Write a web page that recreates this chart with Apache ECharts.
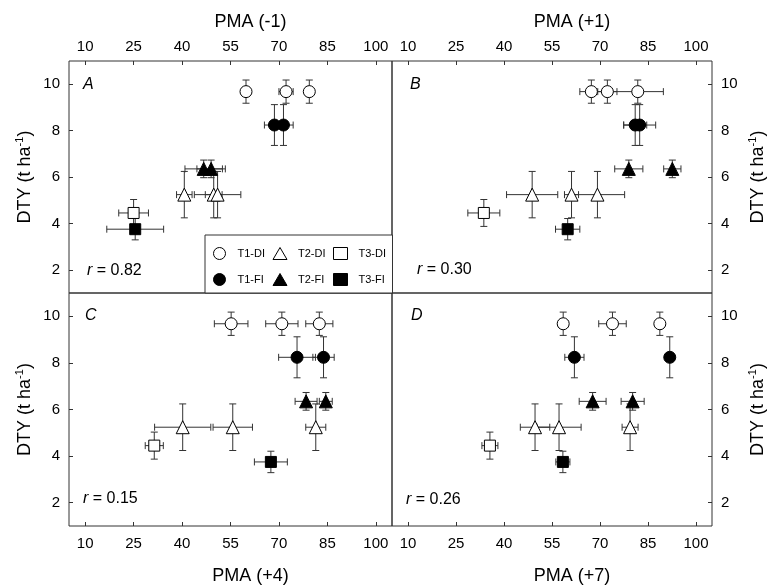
<!DOCTYPE html>
<html>
<head>
<meta charset="utf-8">
<script src="https://cdn.jsdelivr.net/npm/echarts@6/dist/echarts.min.js"></script>
<style>
  html, body { margin: 0; padding: 0; background: #fff; }
  #main { width: 768px; height: 587px; }
</style>
</head>
<body>
<div id="main"></div>
<script>
// 数据
var groups = ['T1-DI', 'T1-FI', 'T2-DI', 'T2-FI', 'T3-DI', 'T3-FI'];
var dty = [9.68, 8.24, 5.24, 6.35, 4.45, 3.75];
var dtyErr = [0.5, 0.88, 1.0, 0.38, 0.58, 0.46];

var pmaA = [[59.8, 72.2, 79.4], [68.6, 71.4], [40.7, 49.8, 51.0], [46.7, 49.0], [25.0], [25.5]];
var pmaAErr = [[1.0, 2.2, 1.0], [3.1, 3.0], [2.4, 2.6, 7.2], [5.8, 4.4], [4.6], [8.8]];
var pmaB = [[67.3, 72.3, 81.8], [81.0, 82.4], [48.8, 61.1, 69.2], [79.0, 92.6], [33.7], [59.9]];
var pmaBErr = [[3.6, 3.0, 8.0], [3.6, 5.0], [8.0, 2.2, 8.5], [4.4, 2.7], [5.0], [3.8]];
var pmaC = [[55.2, 70.9, 82.5], [75.6, 83.8], [40.2, 55.7, 81.4], [78.4, 84.5], [31.4], [67.5]];
var pmaCErr = [[5.2, 5.0, 4.2], [5.7, 3.3], [8.7, 6.1, 3.1], [3.4, 2.0], [2.8], [5.1]];
var pmaD = [[58.5, 73.9, 88.7], [62.0, 91.8], [49.7, 57.2, 79.4], [67.7, 80.2], [35.6], [58.4]];
var pmaDErr = [[1.5, 4.3, 1.2], [3.0, 1.0], [4.6, 6.9, 2.5], [4.2, 3.6], [2.5], [2.2]];

var xNames = ['PMA (-1)', 'PMA (+1)', 'PMA (+4)', 'PMA (+7)'];
var panelLetters = ['A', 'B', 'C', 'D'];
var rValues = ['0.82', '0.30', '0.15', '0.26'];
var xTicks = [10, 25, 40, 55, 70, 85, 100];
var yTicks = [2, 4, 6, 8, 10];

var FONT = 'Liberation Sans, Arial, sans-serif';
var symbols = ['circle', 'circle', 'triangle', 'triangle', 'rect', 'rect'];
var symbolSizes = [12, 12, 13, 13, 11, 11];
var fills = ['#fff', '#000', '#fff', '#000', '#fff', '#000'];

var pma = [pmaA, pmaB, pmaC, pmaD];
var pmaErr = [pmaAErr, pmaBErr, pmaCErr, pmaDErr];

var grids = [
  { left: 69, top: 61, width: 323, height: 232 },
  { left: 392, top: 61, width: 324, height: 232 },
  { left: 69, top: 293, width: 323, height: 233 },
  { left: 392, top: 293, width: 324, height: 233 }
];
var letterPos = [[83, 77], [410, 77], [85, 308], [411, 308]];
var rPos = [[87, 263], [417, 262], [83, 491], [406, 492]];

// 误差线
function errorBar(params, api) {
  var x = api.value(0), y = api.value(1), ex = api.value(2), ey = api.value(3);
  var l = api.coord([x - ex, y]), r = api.coord([x + ex, y]);
  var t = api.coord([x, y + ey]), b = api.coord([x, y - ey]);
  var cap = 3.5;
  var style = { stroke: '#333', lineWidth: 1, fill: null };
  var line = function (x1, y1, x2, y2) {
    return { type: 'line', shape: { x1: x1, y1: y1, x2: x2, y2: y2 }, style: style };
  };
  return {
    type: 'group',
    children: [
      line(l[0], l[1], r[0], r[1]),
      line(l[0], l[1] - cap, l[0], l[1] + cap),
      line(r[0], r[1] - cap, r[0], r[1] + cap),
      line(t[0], t[1], b[0], b[1]),
      line(t[0] - cap, t[1], t[0] + cap, t[1]),
      line(b[0] - cap, b[1], b[0] + cap, b[1])
    ]
  };
}

var xAxes = [], yAxes = [], series = [], graphics = [];
grids.forEach(function (g, p) {
  var top = p < 2, left = p % 2 === 0;
  xAxes.push({
    gridIndex: p, type: 'value', min: 5, max: 105,
    position: top ? 'top' : 'bottom',
    name: xNames[p], nameLocation: 'middle', nameGap: top ? 30 : 41,
    nameTextStyle: { fontSize: 18, color: '#000', fontFamily: FONT, padding: [0, 0, 0, 40] },
    axisLine: { show: false },
    axisTick: { show: true, inside: true, length: 4, customValues: xTicks, lineStyle: { color: '#333' } },
    axisLabel: { customValues: xTicks, fontSize: 15, color: '#000', fontFamily: FONT, margin: top ? 7 : 10 },
    splitLine: { show: false }
  });
  yAxes.push({
    gridIndex: p, type: 'value', min: 1, max: 11,
    position: left ? 'left' : 'right',
    name: '{a|DTY (t ha}{s|-1}{a|)}', nameLocation: 'middle', nameGap: left ? 33 : 35, nameRotate: 90,
    nameTextStyle: {
      color: '#000', fontFamily: FONT, fontSize: 18,
      rich: {
        a: { fontSize: 18, color: '#000', fontFamily: FONT, lineHeight: 22 },
        s: { fontSize: 11, color: '#000', fontFamily: FONT, verticalAlign: 'top', lineHeight: 22 }
      }
    },
    axisLine: { show: false },
    axisTick: { show: true, inside: true, length: 4, customValues: yTicks, lineStyle: { color: '#333' } },
    axisLabel: { customValues: yTicks, fontSize: 15, color: '#000', fontFamily: FONT, margin: 9 },
    splitLine: { show: false }
  });

  var errData = [];
  groups.forEach(function (name, k) {
    var pts = pma[p][k].map(function (v, j) {
      errData.push([v, dty[k], pmaErr[p][k][j], dtyErr[k]]);
      return [v, dty[k]];
    });
    series.push({
      name: name, type: 'scatter', xAxisIndex: p, yAxisIndex: p, z: 3,
      symbol: symbols[k], symbolSize: symbolSizes[k],
      itemStyle: { color: fills[k], borderColor: '#000', borderWidth: 1, opacity: 1 },
      emphasis: { disabled: true },
      data: pts
    });
  });
  series.unshift({
    type: 'custom', xAxisIndex: p, yAxisIndex: p, z: 2,
    renderItem: errorBar, encode: { x: 0, y: 1 },
    silent: true, data: errData
  });

  graphics.push({
    type: 'text', left: letterPos[p][0], top: letterPos[p][1],
    style: { text: panelLetters[p], font: 'italic 16px ' + FONT, fill: '#000' }
  });
  graphics.push({
    type: 'text', left: rPos[p][0], top: rPos[p][1],
    style: {
      text: '{i|r} = ' + rValues[p], fill: '#000', font: '16px ' + FONT,
      rich: { i: { fontStyle: 'italic', fontSize: 16, fontFamily: FONT } }
    }
  });
});

var myChart = echarts.init(document.getElementById('main'));
var option = {
  animation: false,
  backgroundColor: '#fff',
  grid: grids.map(function (g) {
    return Object.assign({ show: true, borderColor: '#333', borderWidth: 1, backgroundColor: 'transparent' }, g);
  }),
  legend: {
    data: ['T1-DI', 'T2-DI', 'T3-DI', 'T1-FI', 'T2-FI', 'T3-FI'],
    left: 205, top: 235, width: 180,
    orient: 'horizontal',
    padding: [9, 6, 4, 8],
    borderColor: '#333', borderWidth: 1,
    backgroundColor: '#fff',
    itemWidth: 14, itemHeight: 12, itemGap: 7,
    selectedMode: false,
    itemStyle: { borderWidth: 1 },
    textStyle: { fontSize: 11, color: '#000', fontFamily: FONT, width: 28, padding: [0, 0, 0, 6], lineHeight: 19 }
  },
  xAxis: xAxes,
  yAxis: yAxes,
  series: series,
  graphic: graphics
};
myChart.setOption(option);
</script>
</body>
</html>
